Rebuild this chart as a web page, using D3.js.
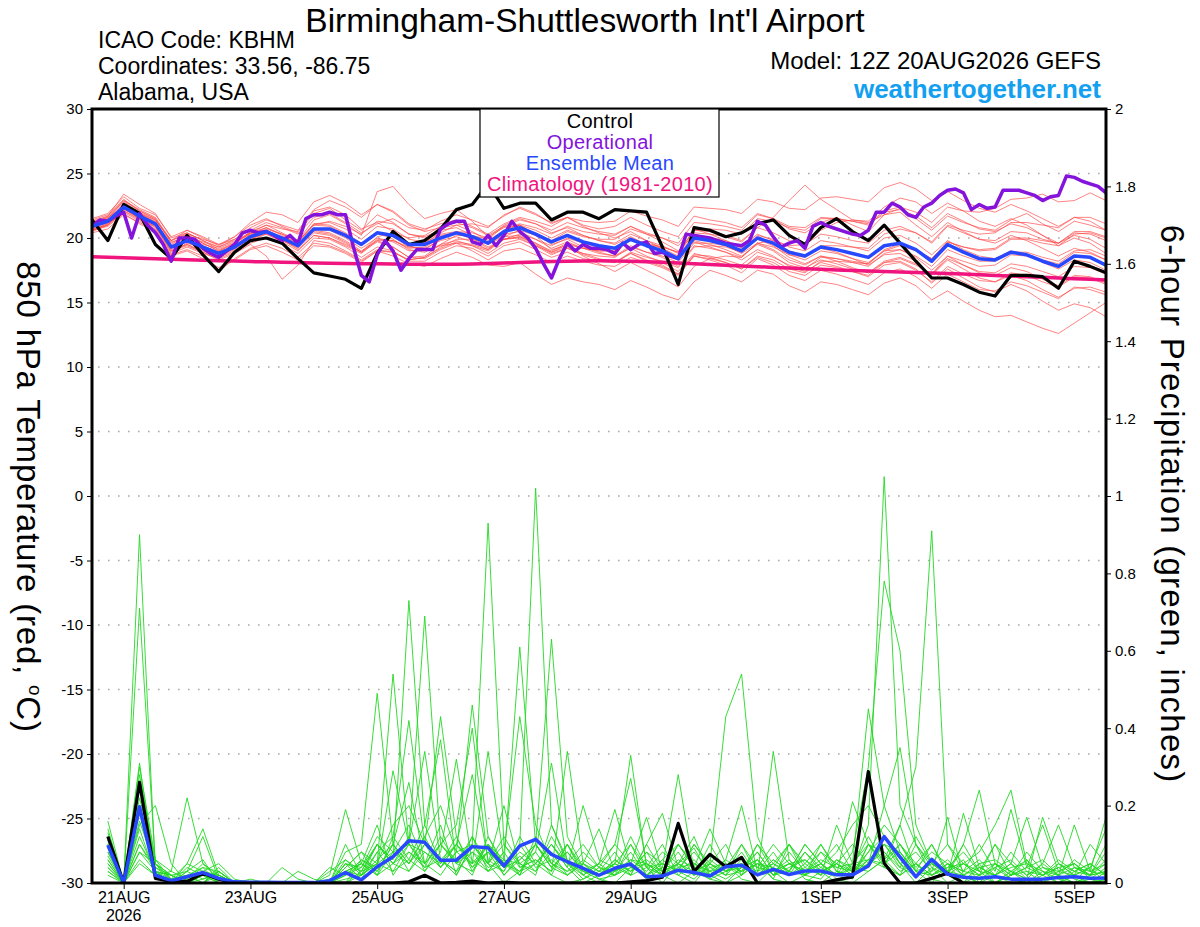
<!DOCTYPE html>
<html>
<head>
<meta charset="utf-8">
<script src="https://cdn.jsdelivr.net/npm/d3@7"></script>
<style>
  body { margin: 0; background: #fff; }
  svg { display: block; }
  text { font-family: "Liberation Sans", Arial, Helvetica, sans-serif; }
</style>
</head>
<body>
<svg id="chart" width="1200" height="927"></svg>
<script>
// ---- data ----
const startUtc = Date.UTC(2026, 7, 20, 12);   // 12Z 20AUG2026, first 6-hourly step
const hour = 3600 * 1000;

const tempTicks = [-30, -25, -20, -15, -10, -5, 0, 5, 10, 15, 20, 25, 30];
const precipTicks = [0, 0.2, 0.4, 0.6, 0.8, 1, 1.2, 1.4, 1.6, 1.8, 2];
const dateTicks = ['2026-08-21', '2026-08-23', '2026-08-25', '2026-08-27', '2026-08-29', '2026-09-01', '2026-09-03', '2026-09-05'];
const dateLabels = ['21AUG', '23AUG', '25AUG', '27AUG', '29AUG', '1SEP', '3SEP', '5SEP'];

// 850 hPa temperature, 6-hourly from 12Z 20AUG (65 values)
const controlTemp = [21.4,19.8,22.6,21.9,19.5,18.4,20.2,18.7,17.4,18.9,19.8,20.0,19.6,
  18.4,17.3,17.05,16.8,16.1,18.8,20.5,19.5,19.8,20.7,22.2,22.6,24.2,
  22.3,22.7,22.7,21.4,22.0,22.0,21.5,22.2,22.1,22.0,19.3,16.4,20.8,
  20.6,20.1,20.4,21.1,21.4,20.2,19.5,20.8,21.5,20.5,19.8,21.0,19.6,
  18.2,16.9,16.9,16.4,15.8,15.5,17.1,17.1,17.0,16.1,18.2,17.8,17.3];

const meanTemp = [20.9,21.3,22.4,21.7,21.1,19.3,19.8,19.3,18.8,19.3,20.1,20.5,20.0,
  19.4,20.7,20.7,20.2,19.5,20.4,20.2,19.5,19.5,20.0,20.4,20.1,19.6,
  20.5,20.8,20.3,19.7,20.2,19.7,19.4,19.2,19.9,19.4,19.0,18.4,20.0,
  19.8,19.5,19.0,20.0,19.6,18.9,18.6,19.3,19.1,18.8,18.5,19.4,19.6,
  19.1,18.2,19.5,18.9,18.4,18.3,18.9,18.7,18.2,17.8,18.6,18.5,17.9];

const climTemp = [18.55,18.51,18.47,18.43,18.39,18.35,18.31,18.28,18.24,18.21,18.17,18.15,18.12,
  18.10,18.07,18.05,18.03,18.01,18.00,17.98,17.97,17.96,17.96,17.97,17.99,18.02,
  18.06,18.10,18.14,18.17,18.20,18.22,18.23,18.22,18.20,18.16,18.12,18.06,18.00,
  17.94,17.88,17.83,17.78,17.72,17.67,17.62,17.57,17.52,17.48,17.44,17.40,17.36,
  17.32,17.28,17.24,17.20,17.15,17.10,17.05,17.00,16.95,16.90,16.85,16.80,16.75];

// operational run, 3-hourly (129 values)
const operTemp = [20.9,21.4,21.3,21.7,22.0,20.0,21.9,21.0,20.4,19.5,18.2,20.0,20.0,19.9,19.2,18.8,
  18.5,19.0,19.5,20.4,20.6,20.4,20.5,20.2,19.8,20.2,19.6,21.5,21.8,21.8,22.0,21.8,
  21.8,19.3,17.1,16.6,18.7,19.8,19.0,17.5,18.4,19.1,19.1,19.1,20.7,21.1,21.3,21.3,
  19.7,19.5,20.2,19.4,20.2,21.3,20.5,20.0,19.2,18.0,16.9,18.4,19.6,19.0,19.5,19.2,
  19.2,19.1,18.8,19.6,19.1,19.5,19.7,18.8,18.9,18.6,18.4,20.3,20.2,20.1,20.0,19.8,
  19.6,19.5,19.4,19.8,21.3,21.0,20.1,19.3,19.6,19.8,19.2,20.9,21.2,20.9,20.7,20.5,
  20.3,20.2,20.6,22.0,22.0,22.7,22.4,21.8,21.6,22.4,22.7,23.3,23.7,23.8,23.5,22.2,
  22.6,22.3,22.4,23.7,23.7,23.7,23.5,23.3,22.9,23.2,23.3,24.8,24.7,24.4,24.2,24.0,
  23.5];

// ensemble members, temperature (20 x 65)
const tempMembers = [
  [21.2,21.6,22.8,22.0,21.4,19.8,20.3,19.9,19.5,19.9,20.6,21.2,20.8,
   20.3,21.6,21.9,21.2,20.4,21.1,21.5,20.8,20.6,21.3,21.8,21.4,20.9,
   21.7,22.4,21.9,21.1,21.6,21.0,20.7,20.9,21.6,21.0,20.5,20.1,21.7,
   21.4,21.2,20.8,21.9,21.5,20.7,20.4,21.2,21.6,21.0,20.5,21.8,22.3,
   21.5,20.6,21.7,21.2,20.8,20.6,21.4,21.9,21.1,20.5,21.3,21.0,20.6],
  [20.6,20.9,21.9,21.1,20.5,18.7,19.1,18.6,17.4,18.4,19.2,19.6,19.2,
   18.5,19.6,19.4,18.9,18.2,19.0,18.6,18.0,17.8,18.4,18.9,18.5,17.9,
   17.8,18.1,17.2,16.4,16.9,16.6,16.4,16.0,16.7,16.2,15.6,15.2,16.6,
   17.5,17.1,16.6,17.5,17.2,16.3,15.8,16.6,16.4,16.0,15.6,16.5,16.9,
   16.3,15.2,15.9,15.1,14.4,13.9,14.0,13.5,13.0,12.6,13.4,14.2,15.0],
  [21.5,21.9,23.2,22.3,21.8,20.1,20.6,20.0,19.4,20.1,21.0,21.5,20.9,
   20.4,21.9,22.3,21.4,20.6,21.8,21.2,20.3,20.1,20.6,20.8,20.2,19.5,
   20.1,20.2,19.6,18.9,19.3,18.8,18.4,18.1,18.8,18.3,17.9,17.2,18.6,
   18.3,17.9,17.3,18.4,17.9,17.1,16.7,17.5,17.2,16.8,16.4,17.3,17.6,
   17.0,16.1,17.2,16.6,16.0,15.9,16.6,16.3,15.8,15.3,16.2,16.0,15.6],
  [20.4,20.7,21.8,21.2,20.6,18.6,19.0,18.4,17.7,18.3,19.1,19.4,18.9,
   18.3,19.4,19.3,18.8,18.1,19.0,18.9,18.3,18.5,19.2,19.7,19.5,19.1,
   20.1,20.6,20.2,19.8,20.5,20.1,19.9,19.9,20.7,20.3,20.0,19.6,21.2,
   21.1,20.9,20.6,21.8,21.5,20.9,20.8,21.6,21.5,21.3,21.1,22.1,22.4,
   22.0,21.2,22.4,22.1,22.0,22.3,23.0,23.1,23.4,22.8,22.9,23.5,22.9],
  [21.0,21.5,22.9,22.1,21.5,19.6,20.3,19.6,19.0,19.6,20.5,21.0,20.4,
   19.8,21.4,21.8,21.1,20.2,23.6,24.0,22.6,21.5,21.9,22.2,21.3,20.1,
   20.8,21.0,20.2,19.1,19.4,18.6,18.0,17.4,18.1,17.5,16.9,16.2,17.8,
   18.4,18.6,18.5,19.6,19.8,19.4,19.5,20.6,21.2,21.4,21.3,22.4,23.1,
   22.8,21.9,22.7,22.1,21.3,20.9,21.5,21.0,20.2,19.4,20.0,19.6,18.8],
  [20.7,21.1,22.1,21.4,20.9,19.0,19.4,18.9,18.5,19.0,19.8,20.3,19.8,
   19.3,20.6,20.4,19.8,19.0,19.8,19.3,18.5,18.4,19.1,19.6,19.4,19.0,
   19.9,20.3,19.9,19.4,20.0,19.6,19.3,19.2,20.0,19.5,19.2,18.6,20.3,
   20.0,19.8,19.3,20.3,19.8,19.0,18.6,19.2,18.9,18.4,17.9,18.7,18.8,
   18.2,17.1,18.3,17.6,16.9,16.6,17.1,16.7,16.0,15.4,16.1,16.2,15.8],
  [21.3,21.4,22.6,21.8,21.2,19.4,20.1,19.7,19.3,19.8,20.4,20.6,19.9,
   19.1,20.2,20.0,19.4,18.8,19.8,19.8,19.3,19.6,20.4,21.0,21.1,20.8,
   21.8,22.3,21.8,21.2,21.6,20.9,20.4,20.0,20.5,19.8,19.2,18.4,19.8,
   19.5,19.1,18.6,19.5,19.0,18.1,17.7,18.3,18.0,17.6,17.3,18.2,18.5,
   18.0,17.2,18.6,18.2,17.8,17.9,18.7,18.6,18.3,18.0,18.9,18.8,18.3],
  [20.8,21.2,22.2,21.6,21.0,19.2,19.7,19.1,18.6,19.1,19.9,20.4,20.0,
   19.6,21.0,21.3,20.9,20.3,21.3,21.1,20.3,20.0,20.3,20.5,20.0,19.3,
   19.9,20.0,19.4,18.7,19.2,18.8,18.6,18.5,19.3,18.9,18.6,18.1,19.6,
   19.6,19.4,19.1,20.2,19.9,19.3,19.0,19.8,19.6,19.3,19.0,20.0,20.2,
   19.6,18.7,19.8,19.1,18.6,18.4,19.0,18.7,18.1,17.6,18.3,18.1,17.5],
  [21.1,21.7,23.4,22.6,21.9,20.0,20.4,19.8,19.3,19.9,20.8,21.4,21.0,
   20.6,22.2,22.9,22.4,21.6,22.6,22.1,21.1,20.7,21.1,21.4,20.9,20.3,
   21.1,21.6,21.3,20.9,21.6,21.3,21.2,21.3,22.1,21.7,21.4,20.9,22.4,
   22.3,22.2,21.9,23.0,22.8,22.3,22.2,23.1,23.2,23.0,22.8,23.9,24.3,
   23.8,22.9,23.6,22.9,22.3,22.0,22.6,22.1,21.5,20.9,21.6,21.3,20.6],
  [20.5,21.0,22.0,21.3,20.7,18.8,19.3,18.8,18.4,18.9,19.6,20.0,19.5,
   18.8,20.0,19.9,19.3,18.5,19.3,19.0,18.2,18.2,18.9,19.4,19.2,18.6,
   19.4,19.7,19.1,18.5,18.9,18.4,18.2,18.1,18.9,18.5,18.2,17.7,19.3,
   19.4,19.3,18.9,19.9,19.4,18.5,18.0,18.6,18.2,17.7,17.3,18.1,18.2,
   17.6,16.5,17.6,16.9,16.2,15.8,16.4,15.9,15.1,14.4,14.9,14.6,13.9],
  [21.4,21.8,23.0,22.1,21.5,19.7,20.0,19.3,18.7,19.4,20.3,20.8,20.3,
   19.7,21.1,21.0,20.4,19.6,20.4,19.9,19.1,18.9,19.5,19.8,19.4,18.8,
   19.6,19.9,19.4,18.9,19.5,19.2,19.0,19.0,19.9,19.6,19.3,18.9,20.6,
   20.5,20.2,19.8,20.8,20.4,19.8,19.5,20.3,20.1,19.8,19.6,20.6,20.9,
   20.4,19.6,20.9,20.4,19.9,19.8,20.5,20.4,19.9,19.6,20.4,20.3,19.8],
  [21.0,21.4,22.5,21.9,21.3,19.5,20.2,19.6,19.0,19.5,20.4,21.0,20.7,
   20.5,22.1,22.4,21.8,20.7,21.2,20.5,19.4,19.0,19.4,19.6,19.0,18.3,
   19.0,19.2,18.7,18.1,18.6,18.2,17.9,17.8,18.5,18.1,17.7,17.1,18.6,
   18.4,18.1,17.6,18.5,18.1,17.4,17.1,17.9,17.7,17.4,17.1,18.1,18.4,
   17.9,17.2,18.4,17.9,17.4,17.3,18.0,17.8,17.4,17.0,17.8,17.7,17.2],
  [20.6,21.0,22.3,21.5,20.8,18.9,19.6,19.2,18.9,19.4,20.1,20.4,19.8,
   19.2,20.4,20.2,19.6,18.9,20.1,20.4,20.0,20.2,20.9,21.2,20.8,20.2,
   20.9,21.0,20.3,19.5,19.9,19.3,18.9,18.6,19.2,18.6,18.1,17.4,18.8,
   18.5,18.1,17.6,18.6,18.3,17.6,17.3,18.2,18.2,18.1,18.0,19.1,19.5,
   19.1,18.4,19.7,19.3,19.0,19.1,19.9,19.9,19.6,19.4,20.3,20.4,20.0],
  [21.2,21.5,22.7,21.9,21.2,19.3,19.9,19.5,19.2,19.7,20.3,20.6,20.0,
   19.3,20.5,20.3,19.7,18.9,19.7,19.3,18.5,18.6,19.5,20.2,20.2,19.9,
   20.9,21.4,21.1,20.6,21.2,20.8,20.5,20.3,20.9,20.3,19.7,19.0,20.3,
   19.9,19.4,18.8,19.6,19.1,18.3,17.9,18.6,18.4,18.1,17.8,18.8,19.1,
   18.6,17.8,19.1,18.6,18.2,18.2,18.9,18.9,18.5,18.2,19.0,19.1,18.6],
  [20.9,21.3,22.6,21.9,21.4,19.8,20.6,20.1,19.5,20.1,21.2,22.0,21.8,
   21.2,22.8,23.3,22.7,21.8,22.6,22.0,21.0,20.5,20.8,21.0,20.5,19.8,
   20.6,21.0,20.6,20.0,20.6,20.2,19.8,19.6,20.3,19.8,19.4,18.8,20.4,
   20.3,20.1,19.7,20.8,21.6,22.9,24.1,23.0,22.2,21.4,21.2,21.8,22.0,
   21.0,20.1,21.2,20.5,19.9,19.6,20.2,19.8,19.2,18.6,19.2,18.9,18.3],
  [20.8,21.2,22.3,21.5,20.9,19.0,19.5,19.0,18.6,19.2,20.0,20.3,19.7,
   19.0,20.2,20.0,19.5,18.9,19.9,19.8,19.2,19.3,20.0,20.4,20.1,19.5,
   20.3,20.5,19.9,19.2,19.7,19.2,18.8,18.6,19.4,18.9,18.5,17.8,19.4,
   19.2,18.9,18.5,19.6,19.3,18.7,18.5,19.4,19.4,19.3,19.2,20.3,20.7,
   20.4,19.7,21.0,20.6,20.3,20.4,21.2,21.2,21.0,20.8,21.6,21.6,21.1],
  [21.1,21.6,22.4,21.6,21.0,19.1,19.5,18.9,18.3,18.8,19.5,18.6,16.8,
   17.9,19.8,19.6,19.0,18.3,19.1,18.9,18.3,18.5,19.3,19.9,19.9,19.6,
   20.6,21.1,20.8,20.3,20.9,20.5,20.3,20.2,20.9,20.4,20.0,19.4,20.7,
   20.3,19.8,19.2,20.0,19.5,18.7,18.3,19.0,18.8,18.4,18.1,19.0,19.1,
   18.5,17.5,18.6,17.9,17.3,17.1,17.7,17.4,16.8,16.3,17.1,17.0,16.5],
  [20.7,21.0,22.1,21.5,21.0,19.3,19.9,19.4,18.9,19.4,20.2,20.7,20.3,
   19.8,21.0,20.9,20.3,19.5,20.4,20.1,19.3,19.2,19.8,20.1,19.7,19.1,
   19.9,20.1,19.5,18.8,19.2,18.7,18.3,18.1,18.8,18.2,17.8,17.2,18.7,
   18.6,18.3,17.9,18.9,18.5,17.9,17.6,18.5,18.4,18.2,18.0,19.0,19.4,
   19.0,18.4,19.7,19.3,19.1,19.2,20.0,20.0,19.8,19.6,20.5,20.5,20.1],
  [21.3,21.7,22.9,22.2,21.6,19.8,20.4,19.8,19.1,19.6,20.4,20.8,20.2,
   19.5,20.7,20.6,20.0,19.2,20.0,19.7,19.0,19.1,19.9,20.5,20.4,20.0,
   21.0,21.5,21.1,20.4,20.8,20.2,19.8,19.5,20.1,19.5,19.0,18.3,19.7,
   19.3,18.9,18.3,19.1,18.6,17.8,17.4,18.1,17.8,17.4,17.0,17.9,18.1,
   17.5,16.6,17.8,17.2,16.7,16.6,17.3,17.1,16.6,16.2,17.0,16.9,16.4],
  [20.6,21.1,22.4,21.8,21.2,19.4,19.8,19.2,18.7,19.2,20.0,20.5,20.1,
   19.7,21.1,21.2,20.7,19.9,20.9,20.7,19.9,19.7,20.2,20.4,19.9,19.2,
   19.9,20.1,19.6,19.0,19.6,19.2,19.0,19.0,19.8,19.5,19.3,18.9,20.6,
   20.7,20.6,20.3,21.5,21.3,20.8,20.6,21.5,21.5,21.3,21.0,22.0,22.2,
   21.7,20.8,21.9,21.3,20.7,20.5,21.1,20.8,20.2,19.6,20.2,19.9,19.2]
];

// 6-hour precipitation (inches), valid at 18Z 20AUG onward (64 values)
const controlPrecip = [0.12,0,0.26,0.012,0.004,0.004,0.025,0.01,0,0,0,0,0,0,0,0,
  0,0,0,0.003,0.02,0,0.002,0.005,0,0.002,0,0,0,0,0,0.002,
  0,0.003,0.006,0.015,0.154,0.03,0.074,0.042,0.066,0,0,0,0,0,0.008,0.016,
  0.288,0.051,0,0,0.012,0.025,0,0,0,0,0,0,0,0,0,0];

const meanPrecip = [0.098,0,0.197,0.02,0.006,0.016,0.027,0.012,0.003,0.002,0.002,0.001,0.001,0.001,0.006,0.027,
  0.008,0.042,0.068,0.109,0.105,0.059,0.059,0.094,0.091,0.044,0.096,0.113,0.074,0.055,0.038,0.02,
  0.038,0.049,0.016,0.018,0.033,0.027,0.018,0.042,0.046,0.021,0.035,0.022,0.031,0.031,0.021,0.021,
  0.044,0.12,0.067,0.016,0.061,0.023,0.015,0.012,0.016,0.01,0.01,0.01,0.014,0.016,0.012,0.013];

const precipMembers = [
  [0.05,0,0.9,0.03,0,0,0.02,0,0,0,0,0,0,0,0,0.02, 0.04,0.12,0.08,0.1,0.34,0.06,0.02,0.1,0.05,0,0.03,0.08,0.02,0,0.01,0.04,
   0.1,0.27,0.05,0.02,0,0.03,0.01,0,0.02,0.06,0.01,0,0,0.03,0.05,0.02, 0.08,0.12,0.05,0,0.04,0,0.02,0,0,0.03,0,0,0.02,0,0,0.01],
  [0.1,0,0.71,0.05,0.01,0,0,0.03,0,0,0,0,0,0,0,0, 0.02,0.05,0.15,0.2,0.1,0.43,0.12,0.04,0.08,0.02,0.06,0.1,0.04,0.02,0.05,0.03,
   0.02,0.05,0.01,0.04,0.02,0,0.05,0.43,0.54,0.12,0.03,0,0.02,0.05,0.01,0, 0.03,0.06,0.02,0.05,0.01,0,0,0.04,0.02,0,0,0.03,0.01,0,0.02,0.03],
  [0.14,0,0.31,0.02,0,0.05,0.03,0,0,0,0,0,0,0,0,0.05, 0.01,0.08,0.03,0.06,0.15,0.37,0.05,0.12,0.03,0.08,0.02,0.05,0.1,0.04,0,0.02,
   0.05,0.03,0.08,0.02,0.1,0.04,0.01,0.03,0.08,0.02,0.34,0.06,0.01,0,0.03,0.01, 0.1,0.04,0.15,0.03,0,0.05,0.02,0,0.04,0.01,0,0,0.03,0.05,0.01,0],
  [0.08,0,0.28,0.05,0.02,0,0.01,0.03,0,0,0,0,0,0,0.03,0.06, 0.02,0.1,0.05,0.12,0.03,0.08,0.32,0.05,0.1,0.02,0.07,0.03,0.12,0.05,0.02,0,
   0.03,0.12,0.04,0,0.05,0.09,0.02,0.05,0.01,0,0.04,0.02,0.08,0.03,0,0.05, 0.45,0.2,0.08,0.03,0.1,0.02,0,0.05,0,0.02,0.06,0,0,0.02,0.04,0],
  [0.03,0,0.15,0.2,0.05,0,0,0.02,0,0,0,0,0,0,0,0, 0.06,0.03,0.1,0.05,0.12,0.2,0.08,0.46,0.12,0.05,0.02,0.1,0.04,0.08,0.03,0.01,
   0,0.04,0.02,0.06,0.03,0.01,0.05,0.02,0.1,0.04,0.03,0.05,0.02,0.01,0.06,0.03, 0.15,1.05,0.2,0.1,0.05,0.03,0.06,0,0.02,0.05,0.01,0,0,0.04,0.02,0.05],
  [0.06,0,0.2,0.02,0.03,0.22,0.05,0.01,0,0,0,0,0,0,0,0.03, 0.05,0.15,0.02,0.08,0.05,0.1,0.15,0.4,0.05,0.12,0.05,0.02,0.15,0.05,0.01,0.03,
   0.08,0.02,0.1,0.03,0.05,0.12,0.02,0,0.04,0.08,0.02,0.03,0.1,0.05,0.02,0.08, 0.3,0.78,0.6,0.15,0.05,0.02,0.1,0.03,0,0.02,0.08,0.03,0,0,0.05,0.02],
  [0.12,0,0.1,0.04,0.01,0.05,0.14,0.02,0,0,0,0,0,0,0,0.01, 0.02,0.06,0.1,0.03,0.08,0.04,0.1,0.28,0.06,0.03,0.12,0.05,0.02,0.1,0.04,0.02,
   0.05,0.1,0.02,0.04,0.28,0.03,0.05,0.02,0.03,0.05,0.01,0.1,0.04,0.02,0.05,0.1, 0.05,0.2,0.35,0.1,0.02,0.05,0,0.02,0.05,0.01,0,0.02,0.04,0.01,0,0.03],
  [0.05,0,0.05,0.02,0,0.03,0.12,0.01,0,0,0,0,0,0,0,0.04, 0.08,0.02,0.05,0.1,0.04,0.12,0.05,0.1,0.93,0.1,0.05,0.03,0.08,0.02,0.05,0.01,
   0.02,0.06,0.03,0.08,0.05,0.02,0.1,0.03,0.05,0.02,0.06,0.03,0.02,0.08,0.03,0.02, 0.1,0.06,0.15,0.3,0.91,0.1,0.05,0.02,0,0.03,0.01,0.05,0.02,0,0.01,0.04],
  [0.16,0,0.12,0.03,0.02,0,0.03,0.05,0.01,0,0,0.04,0.01,0,0,0, 0.03,0.05,0.08,0.15,0.05,0.02,0.08,0.05,0.34,0.06,0.02,0.12,0.05,0.02,0.06,0.03,
   0.05,0.02,0.04,0.1,0.02,0.05,0.03,0.06,0.2,0.03,0.05,0.1,0.02,0.04,0.08,0.15, 0.2,0.12,0.05,0.08,0.03,0.17,0.02,0,0.05,0.02,0.03,0,0.05,0.02,0,0.01],
  [0.02,0,0.08,0.05,0,0.02,0.04,0.03,0,0.01,0,0,0.03,0.01,0,0.05, 0.04,0.1,0.05,0.03,0.1,0.06,0.03,0.08,0.05,0.2,0.04,0.06,0.03,0.1,0.02,0.05,
   0.02,0.04,0.05,0.03,0.08,0.02,0.04,0.05,0.02,0.1,0.03,0.05,0.06,0.02,0.15,0.05, 0.1,0.08,0.03,0.05,0.02,0.04,0.05,0.08,0.15,0.24,0.05,0.02,0,0.03,0.05,0.02],
  [0.07,0,0.18,0.02,0,0,0.02,0,0,0,0,0,0,0,0.02,0.19, 0.05,0.02,0.12,0.06,0.03,0.1,0.05,0.03,0.1,0.05,0.61,0.1,0.05,0.03,0.08,0.04,
   0.03,0.08,0.02,0.05,0.03,0.06,0.02,0.04,0.05,0.03,0.08,0.02,0.05,0.1,0.03,0.02, 0.05,0.1,0.04,0.02,0.06,0.03,0.1,0.24,0.05,0.02,0.04,0.15,0.03,0.05,0.02,0.08],
  [0.04,0,0.22,0.06,0.01,0.02,0,0.03,0,0,0,0,0,0,0,0.08, 0.1,0.49,0.1,0.05,0.12,0.04,0.1,0.06,0.03,0.08,0.43,0.15,0.05,0.1,0.03,0.02,
   0.06,0.03,0.05,0.02,0.04,0.08,0.03,0.01,0.04,0.06,0.02,0.08,0.03,0.05,0.02,0.04, 0.12,0.05,0.08,0.02,0.05,0.1,0.03,0.02,0.04,0.06,0.02,0.05,0.15,0.04,0.02,0.1],
  [0.09,0,0.25,0.03,0,0.01,0.05,0.02,0,0,0,0,0,0,0.01,0.03, 0.02,0.05,0.54,0.1,0.05,0.15,0.02,0.1,0.05,0.03,0.1,1.02,0.15,0.06,0.02,0.05,
   0.1,0.05,0.02,0.06,0.1,0.04,0.02,0.05,0.03,0.1,0.05,0.02,0.04,0.08,0.05,0.03, 0.08,0.15,0.1,0.05,0.02,0.04,0.08,0.03,0.02,0.05,0.17,0.04,0.02,0.06,0.03,0.02],
  [0.11,0,0.16,0.04,0.02,0.03,0.06,0,0,0,0,0,0,0,0,0.02, 0.06,0.04,0.29,0.1,0.08,0.05,0.12,0.03,0.08,0.05,0.03,0.1,0.63,0.12,0.04,0.02,
   0.03,0.05,0.17,0.03,0.05,0.02,0.06,0.03,0.05,0.02,0.06,0.03,0.1,0.05,0.02,0.21, 0.1,0.05,0.02,0.1,0.04,0.02,0.05,0.03,0.1,0.02,0.04,0.06,0.02,0.15,0.03,0.05],
  [0.03,0,0.14,0.02,0,0.04,0.02,0.01,0,0,0,0,0,0,0,0.06, 0.03,0.1,0.06,0.73,0.15,0.05,0.1,0.04,0.1,0.06,0.05,0.08,0.31,0.05,0.1,0.04,
   0.02,0.1,0.04,0.02,0.06,0.04,0.14,0.05,0.03,0.08,0.02,0.04,0.06,0.03,0.05,0.02, 0.06,0.1,0.08,0.03,0.05,0.02,0.18,0.04,0.02,0.08,0.03,0.02,0.05,0.02,0.04,0.14],
  [0.06,0,0.2,0.05,0.02,0,0.03,0.02,0,0,0,0,0,0,0,0.1, 0.02,0.08,0.12,0.42,0.1,0.06,0.03,0.12,0.05,0.1,0.04,0.06,0.03,0.34,0.05,0.02,
   0.06,0.03,0.08,0.05,0.03,0.1,0.04,0.02,0.06,0.04,0.1,0.05,0.03,0.05,0.1,0.03, 0.05,0.08,0.04,0.12,0.05,0.03,0.02,0.05,0.06,0.03,0.01,0.17,0.05,0.03,0.02,0.06],
  [0.13,0,0.08,0.03,0.01,0.02,0,0.04,0,0,0,0,0,0,0.04,0.02, 0.05,0.03,0.1,0.26,0.05,0.1,0.06,0.02,0.12,0.04,0.08,0.05,0.1,0.04,0.2,0.06,
   0.04,0.02,0.1,0.18,0.04,0.05,0.02,0.06,0.03,0.05,0.04,0.1,0.05,0.02,0.06,0.04, 0.03,0.06,0.1,0.04,0.08,0.05,0.03,0.1,0.03,0.19,0.04,0.02,0.06,0.03,0.05,0.02],
  [0.08,0,0.3,0.06,0.03,0.01,0.04,0,0,0,0,0,0,0,0,0.04, 0.08,0.05,0.03,0.1,0.69,0.1,0.05,0.08,0.03,0.05,0.1,0.04,0.06,0.03,0.05,0.14,
   0.03,0.06,0.05,0.02,0.05,0.03,0.05,0.1,0.02,0.05,0.03,0.06,0.02,0.1,0.04,0.05, 0.06,0.04,0.02,0.05,0.1,0.03,0.05,0.02,0.1,0.05,0.02,0.04,0.03,0.02,0.1,0.05],
  [0.1,0,0.06,0.02,0,0.03,0.01,0.02,0,0,0,0,0,0,0,0.05, 0.03,0.1,0.05,0.08,0.04,0.06,0.1,0.05,0.08,0.04,0.06,0.1,0.04,0.08,0.03,0.05,
   0.19,0.04,0.06,0.03,0.1,0.05,0.03,0.04,0.1,0.02,0.05,0.03,0.08,0.04,0.02,0.05, 0.04,0.1,0.05,0.02,0.03,0.06,0.02,0.04,0.05,0.03,0.06,0.02,0.04,0.05,0.02,0.03],
  [0.04,0,0.1,0.03,0.02,0,0.02,0.01,0,0,0,0,0,0,0,0.03, 0.05,0.02,0.08,0.05,0.1,0.04,0.08,0.1,0.04,0.06,0.03,0.05,0.1,0.05,0.03,0.02,
   0.05,0.33,0.04,0.05,0.03,0.1,0.05,0.03,0.04,0.06,0.02,0.05,0.03,0.06,0.04,0.03, 0.06,0.05,0.1,0.03,0.02,0.05,0.03,0.06,0.02,0.04,0.05,0.03,0.02,0.04,0.03,0.17]
];

const legendLabels = ['Control', 'Operational', 'Ensemble Mean', 'Climatology (1981-2010)'];

// ---- styles ----
const colors = {
    member: '#ff4646',
    precip: '#22d822',
    control: '#000000',
    oper: '#8414dc',
    mean: '#2848ff',
    clim: '#f0147f',
    site: '#14a0f0'
};
const legendColors = [colors.control, colors.oper, colors.mean, colors.clim];

const plot = { left: 92, right: 1106, top: 109, bottom: 883 };

// ---- scales ----
const tempTimes = d3.range(65).map(i => new Date(startUtc + i * 6 * hour));
const precipTimes = d3.range(1, 65).map(i => new Date(startUtc + i * 6 * hour));
const operTimes = d3.range(129).map(j => new Date(startUtc + j * 3 * hour));

const x = d3.scaleUtc()
    .domain([tempTimes[0], tempTimes[64]])
    .range([plot.left, plot.right]);
const yTemp = d3.scaleLinear().domain([-30, 30]).range([plot.bottom, plot.top]);
const yPrecip = d3.scaleLinear().domain([0, 2]).range([plot.bottom, plot.top]);

const svg = d3.select('#chart');

svg.append('defs').append('clipPath').attr('id', 'plot-clip')
    .append('rect')
    .attr('x', plot.left).attr('y', plot.top)
    .attr('width', plot.right - plot.left).attr('height', plot.bottom - plot.top);

// dotted gridlines on the temperature ticks
svg.append('g')
    .selectAll('line')
    .data(tempTicks.filter(t => t > -30 && t < 30))
    .join('line')
    .attr('x1', plot.left + 6).attr('x2', plot.right)
    .attr('y1', d => yTemp(d)).attr('y2', d => yTemp(d))
    .attr('stroke', '#a8a8a8')
    .attr('stroke-width', 1.6)
    .attr('stroke-dasharray', '1.6,8.4');

const lines = svg.append('g').attr('clip-path', 'url(#plot-clip)');

function seriesLine(times, yScale) {
    return d3.line().x((d, i) => x(times[i])).y(d => yScale(d));
}
const tempLine = seriesLine(tempTimes, yTemp);
const precipLine = seriesLine(precipTimes, yPrecip);
const operLine = seriesLine(operTimes, yTemp);

lines.append('g').selectAll('path').data(tempMembers).join('path')
    .attr('d', tempLine)
    .attr('fill', 'none')
    .attr('stroke', colors.member)
    .attr('stroke-opacity', 0.75)
    .attr('stroke-width', 0.9);

lines.append('g').selectAll('path').data(precipMembers).join('path')
    .attr('d', precipLine)
    .attr('fill', 'none')
    .attr('stroke', colors.precip)
    .attr('stroke-width', 0.9);

function thick(d, gen, color, width) {
    lines.append('path')
        .attr('d', gen(d))
        .attr('fill', 'none')
        .attr('stroke', color)
        .attr('stroke-width', width)
        .attr('stroke-linejoin', 'round');
}
thick(climTemp, tempLine, colors.clim, 3.5);
thick(controlTemp, tempLine, colors.control, 3.2);
thick(controlPrecip, precipLine, colors.control, 3.2);
thick(operTemp, operLine, colors.oper, 3.5);
thick(meanTemp, tempLine, colors.mean, 3.5);
thick(meanPrecip, precipLine, colors.mean, 3.5);

// frame
svg.append('rect')
    .attr('x', plot.left).attr('y', plot.top)
    .attr('width', plot.right - plot.left).attr('height', plot.bottom - plot.top)
    .attr('fill', 'none')
    .attr('stroke', '#000')
    .attr('stroke-width', 3);

// axes
const leftAxis = svg.append('g')
    .attr('transform', `translate(${plot.left},0)`)
    .call(d3.axisLeft(yTemp).tickValues(tempTicks).tickSize(5).tickPadding(4).tickFormat(d => String(d)));
const rightAxis = svg.append('g')
    .attr('transform', `translate(${plot.right},0)`)
    .call(d3.axisRight(yPrecip).tickValues(precipTicks).tickSize(5).tickPadding(4).tickFormat(d3.format('~g')));
const bottomAxis = svg.append('g')
    .attr('transform', `translate(0,${plot.bottom})`)
    .call(d3.axisBottom(x)
        .tickValues(dateTicks.map(s => new Date(s + 'T00:00:00Z')))
        .tickSize(6).tickPadding(3)
        .tickFormat((d, i) => dateLabels[i]));

[leftAxis, rightAxis, bottomAxis].forEach(g => {
    g.select('.domain').remove();
    g.selectAll('.tick line').attr('stroke', '#000').attr('stroke-width', 1);
    g.selectAll('.tick text').attr('fill', '#000').style('font-size', '15px')
        .style('font-family', '"Liberation Sans", Arial, sans-serif');
});
bottomAxis.selectAll('.tick text').style('font-size', '16px');

svg.append('text')
    .attr('x', x(new Date(dateTicks[0] + 'T00:00:00Z')))
    .attr('y', 921)
    .attr('text-anchor', 'middle')
    .style('font-size', '16px')
    .text('2026');

// legend box
const legend = svg.append('g');
legend.append('rect')
    .attr('x', 480).attr('y', plot.top)
    .attr('width', 239).attr('height', 88)
    .attr('fill', '#fff')
    .attr('stroke', '#000')
    .attr('stroke-width', 1.2);
legend.selectAll('text').data(legendLabels).join('text')
    .attr('x', 600)
    .attr('y', (d, i) => 128 + i * 21)
    .attr('text-anchor', 'middle')
    .attr('fill', (d, i) => legendColors[i])
    .style('font-size', '20px')
    .style('letter-spacing', '0.3px')
    .text(d => d);

// titles
svg.append('text')
    .attr('x', 585).attr('y', 32)
    .attr('text-anchor', 'middle')
    .style('font-size', '33.5px')
    .text("Birmingham-Shuttlesworth Int'l Airport");

const infoLines = ['ICAO Code: KBHM', 'Coordinates: 33.56, -86.75', 'Alabama, USA'];
svg.append('g').selectAll('text').data(infoLines).join('text')
    .attr('x', 98)
    .attr('y', (d, i) => 48 + i * 26)
    .style('font-size', '23px')
    .text(d => d);

svg.append('text')
    .attr('x', 1101).attr('y', 69)
    .attr('text-anchor', 'end')
    .style('font-size', '24px')
    .text('Model: 12Z 20AUG2026 GEFS');

svg.append('text')
    .attr('x', 1101).attr('y', 98)
    .attr('text-anchor', 'end')
    .attr('fill', colors.site)
    .style('font-size', '26px')
    .style('font-weight', 'bold')
    .text('weathertogether.net');

// axis titles, rotated to read top to bottom
const leftTitle = svg.append('text')
    .attr('transform', 'translate(17,497) rotate(90)')
    .attr('text-anchor', 'middle')
    .style('font-size', '33px')
    .style('letter-spacing', '0.8px');
leftTitle.append('tspan').text('850 hPa Temperature (red, ');
leftTitle.append('tspan').attr('dy', -12).style('font-size', '19px').text('o');
leftTitle.append('tspan').attr('dy', 12).text('C)');

svg.append('text')
    .attr('transform', 'translate(1161,504) rotate(90)')
    .attr('text-anchor', 'middle')
    .style('font-size', '33px')
    .style('letter-spacing', '1.2px')
    .text('6-hour Precipitation (green, inches)');
</script>
</body>
</html>
